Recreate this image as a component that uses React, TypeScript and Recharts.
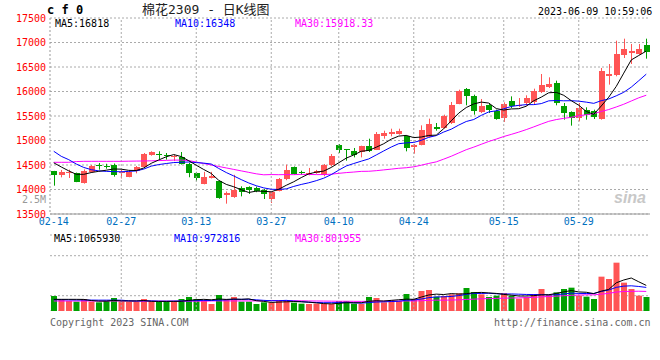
import {
  ComposedChart,
  Bar,
  Line,
  XAxis,
  YAxis,
  CartesianGrid,
  ReferenceLine,
  Cell,
} from "recharts";

const dates = [
  "02-14", "02-15", "02-16", "02-17", "02-20", "02-21", "02-22", "02-23", "02-24", "02-27",
  "02-28", "03-01", "03-02", "03-03", "03-06", "03-07", "03-08", "03-09", "03-10", "03-13",
  "03-14", "03-15", "03-16", "03-17", "03-20", "03-21", "03-22", "03-23", "03-24", "03-27",
  "03-28", "03-29", "03-30", "03-31", "04-03", "04-04", "04-06", "04-07", "04-10", "04-11",
  "04-12", "04-13", "04-14", "04-17", "04-18", "04-19", "04-20", "04-21", "04-24", "04-25",
  "04-26", "04-27", "04-28", "05-04", "05-05", "05-08", "05-09", "05-10", "05-11", "05-12",
  "05-15", "05-16", "05-17", "05-18", "05-19", "05-22", "05-23", "05-24", "05-25", "05-26",
  "05-29", "05-30", "05-31", "06-01", "06-02", "06-05", "06-06", "06-07", "06-08", "06-09",
];

const opens = [
  14371, 14303, 14340, 14337, 14133, 14357, 14490, 14475, 14507, 14340,
  14262, 14370, 14466, 14710, 14731, 14705, 14665, 14656, 14527, 14343,
  14119, 14240, 14167, 13888, 13847, 14030, 14051, 14030, 13997, 13806,
  13976, 14207, 14452, 14357, 14303, 14337, 14289, 14493, 14908, 14820,
  14779, 14758, 14888, 14813, 15092, 15139, 15139, 15085, 14860, 14915,
  15078, 15282, 15255, 15357, 15745, 16058, 15901, 15582, 15718, 15595,
  15459, 15799, 15710, 15772, 15786, 15990, 16099, 16173, 15697, 15582,
  15459, 15629, 15595, 15446, 16323, 16330, 16738, 16793, 16772, 16942,
];
const highs = [
  14380, 14398, 14405, 14345, 14410, 14500, 14540, 14525, 14530, 14400,
  14380, 14480, 14745, 14780, 14780, 14745, 14710, 14765, 14540, 14360,
  14360, 14360, 14180, 13960, 14300, 14065, 14065, 14060, 14010, 13962,
  14235, 14507, 14470, 14384, 14440, 14400, 14520, 14724, 14928, 14825,
  14847, 14894, 15037, 15173, 15200, 15241, 15241, 15105, 14928, 15309,
  15446, 15357, 15527, 15786, 16037, 16071, 15935, 15847, 15765, 15629,
  15779, 15901, 15867, 15922, 16058, 16357, 16289, 16221, 15765, 15595,
  15765, 15677, 15629, 16480, 16561, 17037, 17078, 16970, 16970, 17078,
];
const lows = [
  14078, 14248, 14235, 14150, 14120, 14340, 14405, 14425, 14262, 14225,
  14250, 14330, 14450, 14690, 14620, 14610, 14580, 14510, 14250, 14170,
  14105, 14225, 13810, 13711, 13830, 13860, 13908, 13945, 13806, 13724,
  13962, 14190, 14300, 14300, 14290, 14320, 14270, 14470, 14745, 14588,
  14656, 14656, 14765, 14805, 15037, 15085, 15119, 14779, 14731, 14901,
  15064, 15200, 15241, 15337, 15740, 15718, 15527, 15561, 15561, 15425,
  15378, 15663, 15684, 15711, 15745, 15969, 16071, 15718, 15425, 15303,
  15391, 15425, 15439, 15425, 16140, 16310, 16684, 16561, 16752, 16670,
];
const closes = [
  14303, 14357, 14350, 14160, 14377, 14486, 14480, 14465, 14289, 14357,
  14364, 14459, 14731, 14765, 14697, 14690, 14680, 14527, 14343, 14235,
  14255, 14275, 13826, 13928, 13997, 13949, 13997, 13962, 13908, 13949,
  14214, 14398, 14323, 14330, 14337, 14384, 14507, 14690, 14813, 14806,
  14711, 14881, 14779, 15139, 15160, 15180, 15194, 14847, 14915, 15221,
  15337, 15228, 15507, 15718, 16003, 15908, 15595, 15697, 15616, 15446,
  15752, 15711, 15720, 15867, 16003, 16126, 16153, 15765, 15561, 15459,
  15663, 15514, 15473, 16411, 16357, 16765, 16867, 16820, 16867, 16799,
];

const ma5 = [
  14545, 14460, 14380, 14310, 14309, 14346, 14371, 14394, 14419, 14415,
  14391, 14387, 14440, 14535, 14603, 14668, 14713, 14672, 14587, 14495,
  14408, 14327, 14187, 14104, 14056, 13995, 13939, 13967, 13963, 13953,
  14006, 14086, 14158, 14243, 14320, 14354, 14376, 14450, 14546, 14640,
  14705, 14780, 14798, 14863, 14934, 15028, 15090, 15104, 15059, 15071,
  15103, 15110, 15242, 15402, 15559, 15673, 15746, 15784, 15764, 15652,
  15621, 15644, 15649, 15699, 15811, 15885, 15974, 15983, 15922, 15813,
  15720, 15592, 15534, 15704, 15884, 16104, 16375, 16644, 16735, 16824,
];
const ma10 = [
  14780, 14677, 14609, 14520, 14450, 14405, 14380, 14370, 14365, 14362,
  14369, 14379, 14417, 14477, 14509, 14530, 14550, 14556, 14561, 14549,
  14538, 14520, 14429, 14346, 14276, 14202, 14133, 14077, 14033, 14005,
  14001, 14013, 14063, 14103, 14137, 14180, 14231, 14304, 14395, 14480,
  14530, 14578, 14624, 14705, 14787, 14867, 14935, 14951, 14961, 15003,
  15065, 15100, 15173, 15231, 15315, 15388, 15428, 15513, 15583, 15606,
  15647, 15695, 15717, 15732, 15732, 15753, 15809, 15816, 15810, 15812,
  15803, 15783, 15758, 15813, 15848, 15912, 15984, 16089, 16220, 16354,
];
const ma30 = [
  14555, 14555, 14555, 14570, 14575, 14575, 14575, 14575, 14575, 14575,
  14578, 14580, 14582, 14585, 14590, 14595, 14600, 14600, 14590, 14560,
  14530, 14500, 14470, 14440, 14410, 14380, 14350, 14320, 14300, 14305,
  14302, 14304, 14303, 14309, 14307, 14304, 14305, 14312, 14330, 14345,
  14356, 14370, 14372, 14384, 14400, 14416, 14433, 14444, 14463, 14496,
  14532, 14564, 14620, 14679, 14746, 14812, 14865, 14923, 14980, 15029,
  15081, 15125, 15171, 15222, 15278, 15336, 15391, 15427, 15452, 15473,
  15505, 15526, 15549, 15592, 15632, 15684, 15740, 15806, 15871, 15924,
];

// volume in thousands of lots
const volumes = [
  625, 486, 417, 389, 500, 389, 361, 417, 542, 389,
  375, 375, 500, 375, 375, 375, 389, 500, 583, 500,
  458, 292, 667, 500, 583, 389, 389, 292, 361, 361,
  458, 444, 347, 306, 292, 306, 292, 292, 417, 417,
  306, 292, 583, 542, 361, 444, 417, 708, 500, 833,
  875, 597, 625, 694, 736, 958, 792, 694, 583, 639,
  750, 639, 514, 583, 708, 917, 667, 778, 917, 972,
  639, 597, 500, 1431, 1333, 2014, 1181, 917, 639, 583,
];
const volMa5 = [
  486, 486, 486, 486, 483, 436, 411, 411, 442, 419,
  417, 419, 436, 403, 400, 400, 403, 403, 444, 469,
  486, 467, 500, 483, 500, 486, 506, 431, 403, 358,
  372, 383, 394, 383, 369, 339, 308, 297, 319, 344,
  344, 344, 403, 428, 417, 444, 469, 494, 486, 581,
  667, 703, 686, 725, 706, 722, 761, 775, 753, 733,
  692, 661, 625, 625, 639, 672, 678, 731, 797, 850,
  794, 781, 725, 828, 900, 1175, 1292, 1375, 1217, 1067,
];
const volMa10 = [
  472, 470, 465, 460, 458, 455, 452, 452, 452, 451,
  426, 415, 424, 422, 410, 408, 411, 419, 424, 435,
  443, 435, 451, 464, 485, 486, 486, 465, 443, 429,
  429, 444, 413, 393, 364, 356, 346, 346, 351, 357,
  342, 326, 350, 374, 381, 394, 407, 449, 457, 499,
  556, 586, 590, 606, 643, 694, 732, 731, 739, 719,
  707, 711, 700, 689, 686, 682, 669, 678, 711, 744,
  733, 729, 728, 813, 875, 985, 1036, 1050, 1022, 983,
];
const volMa30 = [
  417, 417, 417, 417, 417, 417, 417, 417, 417, 417,
  417, 410, 410, 410, 410, 410, 410, 410, 410, 410,
  410, 420, 420, 420, 420, 420, 420, 420, 420, 439,
  433, 432, 429, 426, 419, 417, 414, 410, 406, 407,
  404, 401, 404, 410, 410, 413, 413, 419, 417, 428,
  442, 453, 451, 457, 463, 482, 494, 508, 515, 525,
  535, 542, 547, 556, 569, 590, 603, 619, 636, 654,
  665, 675, 672, 703, 735, 788, 813, 819, 824, 815,
];

const dateTicks = ["02-14", "02-27", "03-13", "03-27", "04-10", "04-24", "05-15", "05-29"];
const gridDates = ["02-27", "03-13", "03-27", "04-10", "04-24", "05-15", "05-29"];
const priceTicks = [13500, 14000, 14500, 15000, 15500, 16000, 16500, 17000, 17500];
const volGridTicks = [637, 1471, 2304];
const volLabelTicks = [667, 1000, 1500, 1933];

const rows = dates.map((d, i) => ({
  d,
  open: opens[i],
  high: highs[i],
  low: lows[i],
  close: closes[i],
  range: [lows[i], highs[i]],
  ma5: ma5[i],
  ma10: ma10[i],
  ma30: ma30[i],
  vol: volumes[i],
  vma5: volMa5[i],
  vma10: volMa10[i],
  vma30: volMa30[i],
}));

const UP = "#ff5555";
const DOWN = "#00a000";
const GRID = "#aaaaaa";
const MONO = "'DejaVu Sans Mono', monospace";

const Candle = (props: any) => {
  const { x, y, width, height, payload } = props;
  if (!payload) return null;
  const { open, close, high, low } = payload;
  const top = Math.min(y, y + height);
  const h = Math.abs(height);
  const k = high > low ? h / (high - low) : 0;
  const yo = top + (high - open) * k;
  const yc = top + (high - close) * k;
  const color = close >= open ? UP : DOWN;
  const cx = Math.floor(x + width / 2) + 0.5;
  return (
    <g>
      <line x1={cx} x2={cx} y1={top} y2={top + h} stroke={color} strokeWidth={1} />
      <rect
        x={x}
        y={Math.min(yo, yc)}
        width={width}
        height={Math.max(1, Math.abs(yo - yc))}
        fill={color}
        shapeRendering="crispEdges"
      />
    </g>
  );
};

const VolTick = (props: any) => {
  const { x, y, payload } = props;
  const v = payload.value;
  const label = v >= 1900 ? "2M" : v <= 700 ? "500K" : `${v / 1000}M`;
  return (
    <text
      x={x}
      y={v >= 1900 ? y - 4 : y}
      dy="0.355em"
      textAnchor="end"
      fill="#999"
      fontSize={10}
      fontFamily={MONO}
    >
      {label}
    </text>
  );
};

const label = (
  text: string,
  left: number,
  top: number,
  color: string,
  extra: Record<string, any> = {}
) => (
  <div
    style={{
      position: "absolute",
      left,
      top,
      color,
      fontSize: 10,
      lineHeight: "10px",
      fontFamily: MONO,
      whiteSpace: "nowrap",
      ...extra,
    }}
  >
    {text}
  </div>
);

export default function App() {
  return (
    <div
      style={{
        position: "absolute",
        left: 0,
        top: 0,
        width: 660,
        height: 360,
        background: "#fff",
        overflow: "hidden",
        fontFamily: MONO,
      }}
    >
      <div style={{ position: "absolute", left: 0, top: 0 }}>
        <ComposedChart
          width={660}
          height={234}
          data={rows}
          margin={{ top: 18, right: 10, left: 0, bottom: 0 }}
        >
          <CartesianGrid vertical={false} stroke={GRID} strokeDasharray="2 2" />
          {gridDates.map((g) => (
            <ReferenceLine key={g} x={g} stroke={GRID} strokeDasharray="2 2" />
          ))}
          <XAxis
            dataKey="d"
            ticks={dateTicks}
            interval={0}
            tickLine={false}
            tickSize={0}
            tickMargin={4}
            height={20}
            axisLine={{ stroke: "#999" }}
            tick={{ fill: "#0070c0", fontSize: 10, fontFamily: MONO }}
          />
          <YAxis
            domain={[13500, 17500]}
            ticks={priceTicks}
            width={50}
            tickLine={false}
            tickSize={0}
            tickMargin={4}
            axisLine={{ stroke: "#999", strokeDasharray: "2 2" }}
            tick={{ fill: "#ff0000", fontSize: 10, fontFamily: MONO }}
          />
          <YAxis
            yAxisId="right"
            orientation="right"
            width={0}
            domain={[0, 1]}
            tick={false}
            tickLine={false}
            axisLine={{ stroke: "#999" }}
          />
          <Bar dataKey="range" barSize={6} shape={<Candle />} isAnimationActive={false} />
          <Line type="linear" dataKey="ma30" stroke="#ff00ff" strokeWidth={1} dot={false} isAnimationActive={false} />
          <Line type="linear" dataKey="ma10" stroke="#0000ff" strokeWidth={1} dot={false} isAnimationActive={false} />
          <Line type="linear" dataKey="ma5" stroke="#000000" strokeWidth={1} dot={false} isAnimationActive={false} />
        </ComposedChart>
      </div>

      <div style={{ position: "absolute", left: 0, top: 225 }}>
        <ComposedChart
          width={660}
          height={86}
          data={rows}
          margin={{ top: 10, right: 10, left: 0, bottom: 0 }}
        >
          <CartesianGrid vertical={false} stroke={GRID} strokeDasharray="2 2" />
          {gridDates.map((g) => (
            <ReferenceLine key={g} x={g} stroke={GRID} strokeDasharray="2 2" />
          ))}
          <XAxis dataKey="d" hide />
          <XAxis
            xAxisId="top"
            dataKey="d"
            orientation="top"
            height={0}
            tick={false}
            tickLine={false}
            axisLine={{ stroke: "#999" }}
          />
          <YAxis domain={[0, 3167]} ticks={volGridTicks} hide />
          <YAxis
            yAxisId="vl"
            domain={[667, 1933]}
            ticks={volLabelTicks}
            width={50}
            tickLine={false}
            tickSize={0}
            tickMargin={4}
            axisLine={{ stroke: "#999" }}
            tick={<VolTick />}
          />
          <YAxis
            yAxisId="right"
            orientation="right"
            width={0}
            domain={[0, 1]}
            tick={false}
            tickLine={false}
            axisLine={{ stroke: "#999" }}
          />
          <Bar dataKey="vol" barSize={6} isAnimationActive={false}>
            {rows.map((r) => (
              <Cell key={r.d} fill={r.close >= r.open ? UP : DOWN} />
            ))}
          </Bar>
          <Line type="linear" dataKey="vma30" stroke="#ff00ff" strokeWidth={1} dot={false} isAnimationActive={false} />
          <Line type="linear" dataKey="vma10" stroke="#0000ff" strokeWidth={1} dot={false} isAnimationActive={false} />
          <Line type="linear" dataKey="vma5" stroke="#000000" strokeWidth={1} dot={false} isAnimationActive={false} />
        </ComposedChart>
      </div>

      {label("c f 0", 47, 4, "#000", { fontSize: 12, lineHeight: "12px", fontWeight: "bold" })}
      {label("棉花2309 - 日K线图", 142, 3, "#222", {
        fontSize: 13,
        lineHeight: "13px",
        fontFamily: "'DejaVu Sans Mono', 'Noto Sans CJK SC', sans-serif",
      })}
      {label("2023-06-09 10:59:06", 538, 7, "#000")}

      {label("MA5:16818", 55, 19, "#000")}
      {label("MA10:16348", 175, 19, "#0000ff")}
      {label("MA30:15918.33", 295, 19, "#ff00ff")}

      {label("2.5M", 0, 195, "#999", { width: 46, textAlign: "right" })}

      {label("MA5:1065930", 54, 234, "#000")}
      {label("MA10:972816", 174, 234, "#0000ff")}
      {label("MA30:801955", 295, 234, "#ff00ff")}

      {label("Copyright 2023 SINA.COM", 50, 318, "#666")}
      {label("http://finance.sina.com.cn", 494, 318, "#666", { width: 156, textAlign: "right" })}

      {label("sina", 614, 190, "#c8c8c8", {
        fontSize: 16,
        lineHeight: "16px",
        fontWeight: "bold",
        fontStyle: "italic",
        fontFamily: "'Liberation Sans', sans-serif",
      })}
    </div>
  );
}
